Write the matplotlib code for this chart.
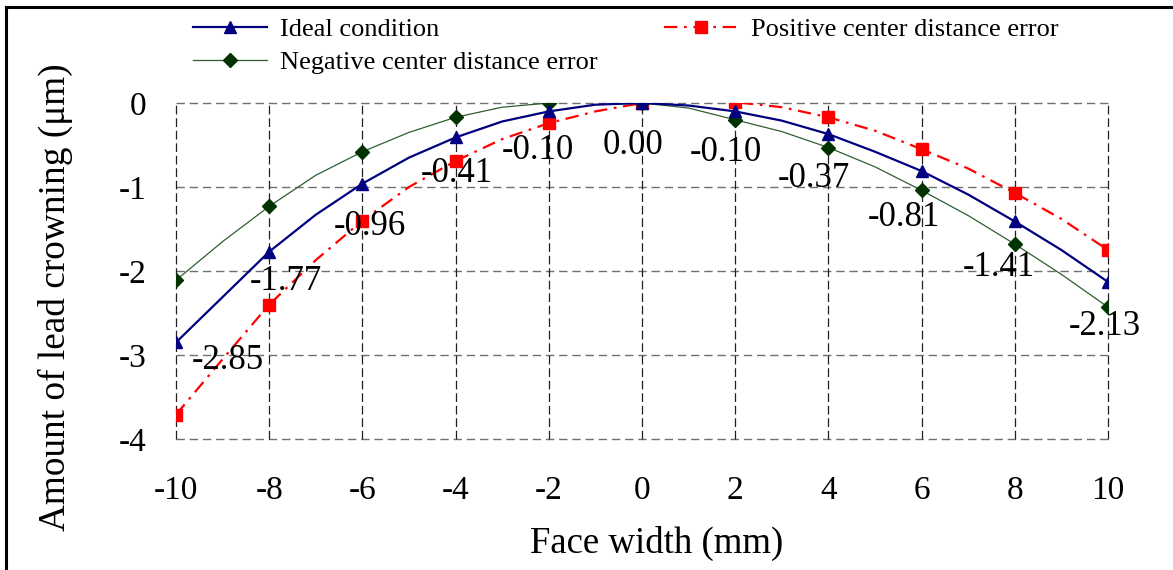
import matplotlib
matplotlib.use("Agg")
import matplotlib.pyplot as plt
from matplotlib.lines import Line2D

plt.rcParams['font.family'] = ['Liberation Serif', 'DejaVu Serif']
plt.rcParams['axes.unicode_minus'] = False

# ---- data ----
face_width = list(range(-10, 11))
ideal = [-2.85, -2.31, -1.77, -1.33, -0.96, -0.65, -0.41, -0.22, -0.10, -0.02, 0.00,
         -0.03, -0.10, -0.21, -0.37, -0.58, -0.81, -1.09, -1.41, -1.75, -2.13]
positive = [-3.71, -3.05, -2.40, -1.87, -1.40, -1.00, -0.69, -0.43, -0.24, -0.10, 0.00,
            0.02, 0.01, -0.05, -0.17, -0.33, -0.55, -0.78, -1.07, -1.38, -1.75]
negative = [-2.11, -1.65, -1.23, -0.86, -0.58, -0.35, -0.17, -0.05, 0.00, 0.02, 0.00,
            -0.06, -0.20, -0.34, -0.53, -0.76, -1.04, -1.34, -1.68, -2.04, -2.43]
series_names = ["Ideal condition", "Positive center distance error",
                "Negative center distance error"]
x_ticks = [-10, -8, -6, -4, -2, 0, 2, 4, 6, 8, 10]
y_ticks = [0, -1, -2, -3, -4]

# label offsets in pixels (dx, dy downward) for the ideal-condition labels
label_offsets = [(52, 18), (17, 30), (7, 43), (1, 36), (-11, 39), (-9, 42),
                 (-9, 41), (-15, 44), (-18, 46), (-16, 46), (-3, 45)]

W, H = 1173, 570
fig = plt.figure(figsize=(W / 100, H / 100), dpi=100)
ax = fig.add_axes([176 / W, 1 - 439 / H, (1108 - 176) / W, (439 - 103) / H])

l_ideal, = ax.plot(face_width, ideal, color='#000080', lw=1.6, marker='^',
                   ms=8.5, markevery=2, zorder=4)
l_pos, = ax.plot(face_width, positive, color='#FF0000', lw=1.6,
                 dashes=(6, 3, 1.2, 3), marker='s', ms=8.5, markevery=2, zorder=3)
l_neg, = ax.plot(face_width, negative, color='#2F5F2F', lw=0.9, marker='D',
                 ms=7, mfc='#003300', mec='#003300', markevery=2, zorder=3)

ax.set_xlim(-10, 10)
ax.set_ylim(-4, 0)
ax.set_xticks(x_ticks)
ax.set_yticks(y_ticks)
ax.set_xticklabels([str(v) for v in x_ticks])
ax.set_yticklabels([str(v) for v in y_ticks])
ax.tick_params(length=0, labelsize=24)
ax.tick_params(axis='x', pad=26)
ax.tick_params(axis='y', pad=21)
for s in ax.spines.values():
    s.set_visible(False)

# gridlines (including the plot border)
for yv in y_ticks:
    ax.axhline(yv, color='#707070', lw=1.0, dashes=(6, 3.5), zorder=1, clip_on=False)
for xv in x_ticks:
    ax.axvline(xv, color='#202020', lw=0.9, dashes=(7, 3), zorder=1, clip_on=False)

# data labels for ideal condition
for xv, (dx, dy) in zip(x_ticks, label_offsets):
    v = ideal[face_width.index(xv)]
    ax.annotate(f"{v:.2f}", (xv, v), xytext=(dx * 0.72, -dy * 0.72),
                textcoords='offset points', ha='center', va='center',
                fontsize=25, zorder=5)

fig.text(657 / W, 1 - 543 / H, "Face width (mm)", ha='center', va='center', fontsize=26.5)
fig.text(55 / W, 1 - 297 / H, "Amount of lead crowning (μm)", ha='center',
         va='center', rotation=90, fontsize=26.8)

leg = fig.legend([l_ideal, l_neg, l_pos],
                 [series_names[0], series_names[2], series_names[1]],
                 ncol=2, frameon=False, loc='upper left',
                 bbox_to_anchor=(193 / W, 1 - 18 / H), fontsize=19,
                 handlelength=2.8, handletextpad=0.5, columnspacing=2.5,
                 labelspacing=0.35, borderaxespad=0, borderpad=0)

# figure border (top and left visible)
fig.add_artist(Line2D([6 / W, 6 / W], [0, 1 - 7 / H], color='black', lw=2.2,
                      transform=fig.transFigure))
fig.add_artist(Line2D([6 / W, 1], [1 - 7 / H, 1 - 7 / H], color='black', lw=2.2,
                      transform=fig.transFigure))

fig.savefig("out.png", dpi=100)
